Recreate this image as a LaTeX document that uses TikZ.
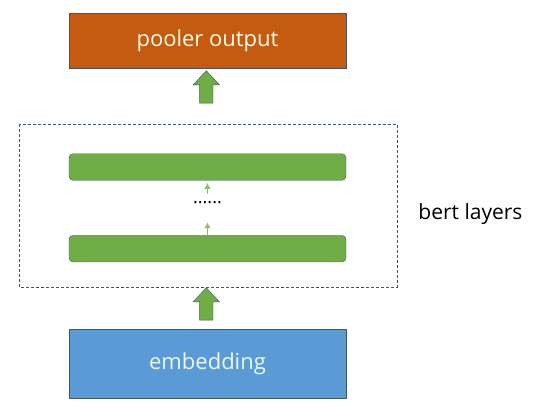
\documentclass[tikz,border=0pt]{standalone}
\usepackage{fontspec}
\setmainfont{Open Sans}
\usepackage{tikz}
\usetikzlibrary{shapes.arrows,arrows.meta}

\definecolor{poolorange}{HTML}{C55A11}
\definecolor{embblue}{HTML}{5B9BD5}
\definecolor{layergreen}{HTML}{70AD47}
\definecolor{smallgreen}{HTML}{8CC168}
\definecolor{edgeslate}{HTML}{41556B}

\tikzset{
  bigbox/.style={draw=edgeslate,thick,minimum width=277pt,font=\fontsize{22}{26}\selectfont},
  layerbar/.style={draw=edgeslate,fill=layergreen,rounded corners=4pt,minimum width=277pt,minimum height=26.5pt},
  uparrow/.style={single arrow,draw=edgeslate,fill=layergreen,shape border rotate=90,
    minimum height=32.4pt,minimum width=26pt,inner sep=6.5pt,single arrow head extend=6.5pt,
    single arrow tip angle=86},
  smallup/.style={-{Latex[length=6pt,width=6.5pt]},smallgreen,line width=1.3pt}
}

\begin{document}
\begin{tikzpicture}[x=1pt,y=-1pt]
        \useasboundingbox (0,0) rectangle (538,410);

        \node[bigbox,fill=poolorange,text=white!90!yellow,minimum height=55pt] (pool) at (207.5, 40.5) {pooler output};
        \node[uparrow]                                     (arr1) at (206.3, 90.5)  {};

        \draw[edgeslate,densely dashed] (19.3,124) rectangle (396.7,287.3);
        \node[font=\fontsize{21}{25}\selectfont]           (bert) at (470.5,214) {bert layers};

        \node[layerbar]      (top) at (207.5, 167)   {};
        \node[inner sep=0pt,minimum height=18pt,font=\fontsize{18}{21}\selectfont] (dots) at (207.5, 203) {......};
        \node[layerbar]      (bot) at (207.5, 248.7) {};

        \draw (dots.north) edge[smallup, shorten >=2.3pt] (dots.north |- top.south);
        \draw (dots.south |- bot.north) edge[smallup, shorten >=10pt] (dots.south);

        \node[uparrow]                                     (arr2) at (206.3, 307.5) {};
        \node[bigbox,fill=embblue,text=white!92!cyan,minimum height=69pt] (emb) at (207.5, 363.6) {embedding};
\end{tikzpicture}
\end{document}
